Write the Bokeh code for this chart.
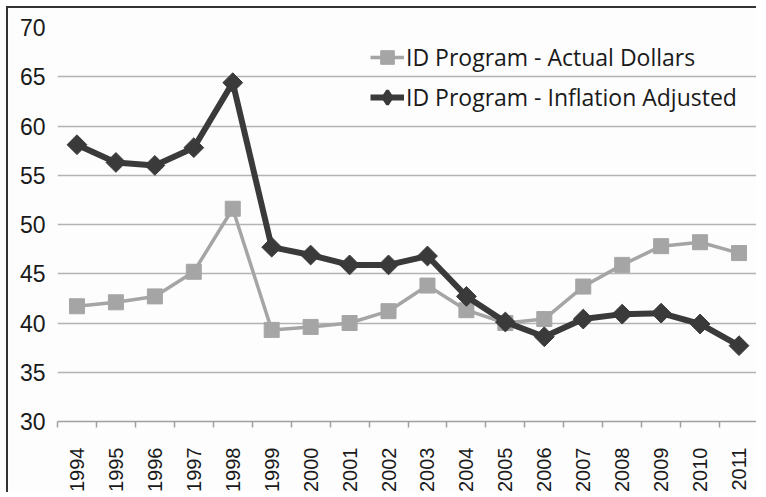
from bokeh.plotting import figure
from bokeh.models import FixedTicker, ColumnDataSource, Legend, LegendItem, CDSView, IndexFilter
from bokeh.embed import file_html
from bokeh.resources import INLINE
import math

years = ["1994", "1995", "1996", "1997", "1998", "1999", "2000", "2001", "2002",
         "2003", "2004", "2005", "2006", "2007", "2008", "2009", "2010", "2011"]
actual_dollars = [41.7, 42.1, 42.7, 45.2, 51.6, 39.3, 39.6, 40.0, 41.2,
                  43.8, 41.3, 40.0, 40.4, 43.7, 45.9, 47.8, 48.2, 47.1]
inflation_adjusted = [58.1, 56.3, 56.0, 57.8, 64.4, 47.7, 46.9, 45.9, 45.9,
                      46.8, 42.7, 40.1, 38.6, 40.4, 40.9, 41.0, 39.9, 37.7]
y_ticks = [30, 35, 40, 45, 50, 55, 60, 65, 70]
series_names = ["ID Program - Actual Dollars", "ID Program - Inflation Adjusted"]

xpos = [i + 0.5 for i in range(len(years))]
src = ColumnDataSource(dict(x=xpos, actual=actual_dollars, infl=inflation_adjusted))

p = figure(width=750, height=486, output_backend="svg", toolbar_location=None,
           x_range=(0, len(years)), y_range=(y_ticks[0], y_ticks[-1]),
           min_border_left=49, min_border_right=0, min_border_top=19, min_border_bottom=72)
p.outline_line_color = None
p.background_fill_color = "#fdfdfd"
p.border_fill_color = "#fdfdfd"
p.styles = {"margin-left": "6px", "margin-top": "6px",
            "border-left": "2px solid #333333", "border-top": "2px solid #333333"}

# grid
p.xgrid.grid_line_color = None
p.ygrid.ticker = FixedTicker(ticks=y_ticks)
p.ygrid.grid_line_color = "#b4b4b4"
p.ygrid.grid_line_width = 1.5

# y axis
p.yaxis.ticker = FixedTicker(ticks=y_ticks)
p.yaxis.axis_line_color = None
p.yaxis.major_tick_line_color = None
p.yaxis.minor_tick_line_color = None
p.yaxis.major_label_standoff = 6
p.yaxis.major_label_text_font = "Liberation Sans"
p.yaxis.major_label_text_font_size = "23px"
p.yaxis.major_label_text_color = "#1a1a1a"

# x axis
p.xaxis.ticker = FixedTicker(ticks=xpos, minor_ticks=list(range(len(years) + 1)))
p.xaxis.major_label_overrides = {x: y for x, y in zip(xpos, years)}
p.xaxis.major_label_orientation = math.pi / 2
p.xaxis.axis_line_color = "#a0a0a0"
p.xaxis.axis_line_width = 1.5
p.xaxis.major_tick_line_color = None
p.xaxis.major_tick_out = 0
p.xaxis.major_tick_in = 0
p.xaxis.minor_tick_line_color = "#a0a0a0"
p.xaxis.minor_tick_line_width = 1.5
p.xaxis.minor_tick_out = 6
p.xaxis.minor_tick_in = 0
p.xaxis.major_label_standoff = 20
p.xaxis.major_label_text_font = "Liberation Sans"
p.xaxis.major_label_text_font_size = "20px"
p.xaxis.major_label_text_color = "#1a1a1a"

# series
gray = "#a5a5a5"
dark = "#3a3a3a"
l1 = p.line("x", "actual", source=src, line_color=gray, line_width=3.5)
s1 = p.scatter("x", "actual", source=src, marker="square", size=15,
               fill_color=gray, line_color=gray)
l2 = p.line("x", "infl", source=src, line_color=dark, line_width=6)
s2 = p.scatter("x", "infl", source=src, marker="square", size=14, angle=math.pi / 4,
               fill_color=dark, line_color=dark)
# legend key diamond (legend glyphs are drawn unrotated); its one small point
# sits hidden inside the first rotated-square marker
s2_key = p.scatter("x", "infl", source=src, view=CDSView(filter=IndexFilter([0])),
                   marker="diamond", size=3, fill_color=dark, line_color=dark, line_width=3)

legend = Legend(items=[LegendItem(label=series_names[0], renderers=[l1, s1]),
                       LegendItem(label=series_names[1], renderers=[l2, s2_key])],
                location=(313, 306), orientation="vertical")
legend.border_line_color = None
legend.background_fill_alpha = 0
legend.padding = 0
legend.margin = 0
legend.spacing = 4
legend.glyph_width = 34
legend.glyph_height = 36
legend.label_height = 36
legend.label_standoff = 2
legend.label_text_font = "Open Sans"
legend.label_text_font_size = "23px"
legend.label_text_color = "#1a1a1a"
p.add_layout(legend, "center")

open("out.html", "w").write(file_html(p, INLINE))
